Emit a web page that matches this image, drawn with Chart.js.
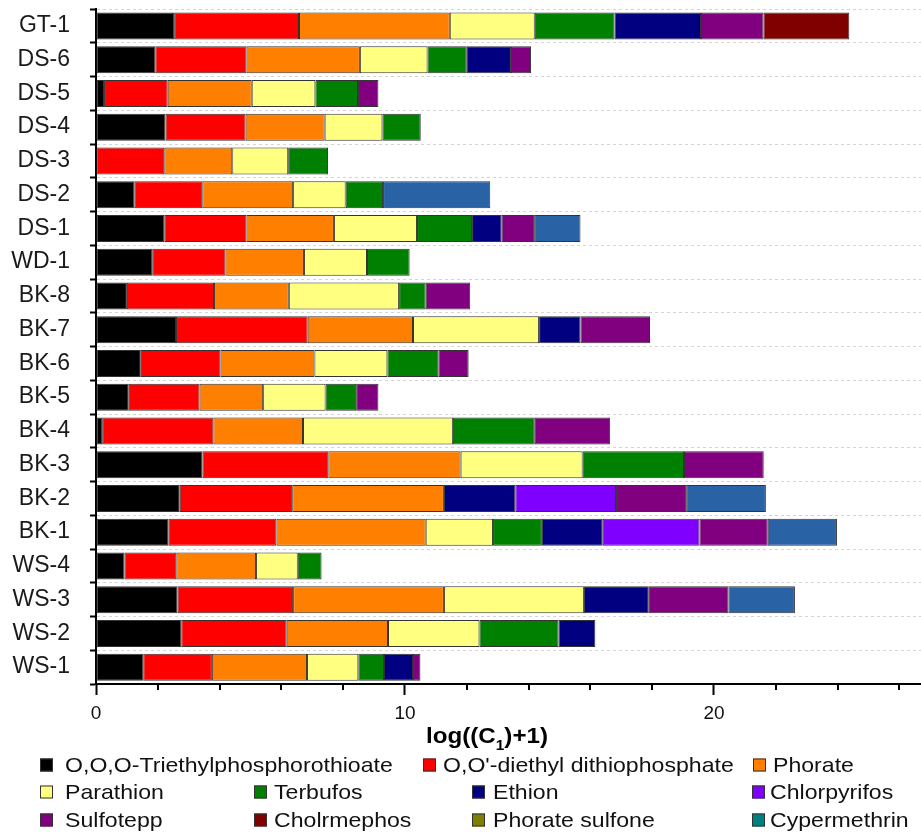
<!DOCTYPE html>
<html>
<head>
<meta charset="utf-8">
<script src="https://cdn.jsdelivr.net/npm/chart.js@4.4.0/dist/chart.umd.min.js"></script>
<style>
  html, body { margin: 0; padding: 0; background: #fff; }
  #wrap { width: 921px; height: 839px; }
</style>
</head>
<body>
<div id="wrap"><canvas id="chart" width="921" height="839"></canvas></div>
<script>
// samples, top to bottom
const samples = ['GT-1', 'DS-6', 'DS-5', 'DS-4', 'DS-3', 'DS-2', 'DS-1', 'WD-1', 'BK-8', 'BK-7',
                 'BK-6', 'BK-5', 'BK-4', 'BK-3', 'BK-2', 'BK-1', 'WS-4', 'WS-3', 'WS-2', 'WS-1'];

const compounds = ['O,O,O-Triethylphosphorothioate', "O,O'-diethyl dithiophosphate", 'Phorate',
                   'Parathion', 'Terbufos', 'Ethion', 'Chlorpyrifos', 'Sulfotepp', 'Cholrmephos',
                   'Phorate sulfone', 'Cypermethrin'];

const triethyl     = [2.53, 1.92, 0.26, 2.25, 0, 1.24, 2.21, 1.82, 1.00, 2.59, 1.45, 1.06, 0.20, 3.45, 2.71, 2.35, 0.92, 2.64, 2.76, 1.53];
const diethyl      = [4.04, 2.95, 2.06, 2.59, 2.21, 2.20, 2.66, 2.37, 2.82, 4.26, 2.58, 2.29, 3.60, 4.07, 3.64, 3.49, 1.68, 3.74, 3.41, 2.22];
const phorate      = [4.88, 3.67, 2.72, 2.56, 2.20, 2.94, 2.83, 2.54, 2.42, 3.41, 3.04, 2.06, 2.90, 4.28, 4.91, 4.83, 2.58, 4.88, 3.28, 3.08];
const parathion    = [2.75, 2.19, 2.06, 1.87, 1.81, 1.70, 2.69, 2.04, 3.57, 4.08, 2.36, 2.02, 4.85, 3.95, 0, 2.18, 1.35, 4.53, 2.96, 1.66];
const terbufos     = [2.58, 1.27, 1.38, 1.24, 1.29, 1.21, 1.78, 1.38, 0.86, 0, 1.65, 0.99, 2.65, 3.28, 0, 1.58, 0.77, 0, 2.56, 0.83];
const ethion       = [2.80, 1.43, 0, 0, 0, 0, 0.96, 0, 0, 1.34, 0, 0, 0, 0, 2.31, 1.97, 0, 2.10, 1.19, 0.94];
const chlorpyrifos = [0, 0, 0, 0, 0, 0, 0, 0, 0, 0, 0, 0, 0, 0, 3.26, 3.13, 0, 0, 0, 0];
const sulfotepp    = [2.02, 0.65, 0.66, 0, 0, 0, 1.05, 0, 1.44, 2.25, 0.98, 0.72, 2.44, 2.58, 2.27, 2.21, 0, 2.58, 0, 0.24];
const cholrmephos  = [2.78, 0, 0, 0, 0, 0, 0, 0, 0, 0, 0, 0, 0, 0, 0, 0, 0, 0, 0, 0];
const phorateSulf  = [0, 0, 0, 0, 0, 0, 0, 0, 0, 0, 0, 0, 0, 0, 0, 0, 0, 0, 0, 0];
const cypermethrin = [0, 0, 0, 0, 0, 3.47, 1.50, 0, 0, 0, 0, 0, 0, 0, 2.58, 2.24, 0, 2.15, 0, 0];

const xTicks = [0, 10, 20];

const seriesValues = [triethyl, diethyl, phorate, parathion, terbufos, ethion, chlorpyrifos,
                      sulfotepp, cholrmephos, phorateSulf, cypermethrin];
const barColors = ['#000000', '#ff0000', '#ff8000', '#ffff80', '#008000', '#000080', '#8000ff',
                   '#800080', '#800000', '#808000', '#2a62a6'];
const legendColors = ['#000000', '#ff0000', '#ff8000', '#ffff80', '#008000', '#000080', '#8000ff',
                      '#800080', '#800000', '#808000', '#008080'];

const FONT = "'Liberation Sans', Arial, sans-serif";

// legend is laid out like the original: first row has 3 wide items, the rest 4 columns
const legendLayout = [
    { sx: 40, tx: 65, y: 765 }, { sx: 423, tx: 443, y: 765 }, { sx: 753, tx: 773, y: 765 },
    { sx: 40, tx: 65, y: 792 }, { sx: 254, tx: 274, y: 792 }, { sx: 472, tx: 493, y: 792 }, { sx: 752, tx: 770, y: 792 },
    { sx: 40, tx: 65, y: 820 }, { sx: 254, tx: 274, y: 820 }, { sx: 472, tx: 493, y: 820 }, { sx: 752, tx: 770, y: 820 }
];

const extrasPlugin = {
    id: 'extras',
    afterDraw(chart) {
        const ctx = chart.ctx;
        const x = chart.scales.x;
        const bottom = chart.chartArea.bottom;

        // minor ticks every 2 units
        ctx.save();
        ctx.strokeStyle = '#000';
        ctx.lineWidth = 2;
        for (let v = 2; v <= x.max; v += 2) {
            if (v % 10 === 0) continue;
            const px = Math.round(x.getPixelForValue(v));
            ctx.beginPath();
            ctx.moveTo(px, bottom);
            ctx.lineTo(px, bottom + 6);
            ctx.stroke();
        }
        ctx.restore();

        // axis title with subscript
        ctx.save();
        ctx.fillStyle = '#000';
        ctx.textBaseline = 'alphabetic';
        const big = 'bold 22px ' + FONT;
        const small = 'bold 14px ' + FONT;
        const stretch = 1.1;
        ctx.font = big;
        const w1 = ctx.measureText('log((C').width;
        const w3 = ctx.measureText(')+1)').width;
        ctx.font = small;
        const w2 = ctx.measureText('1').width;
        const total = (w1 + w2 + w3) * stretch;
        ctx.translate(487 - total / 2, 743);
        ctx.scale(stretch, 1);
        ctx.font = big;
        ctx.fillText('log((C', 0, 0);
        ctx.font = small;
        ctx.fillText('1', w1, 7);
        ctx.font = big;
        ctx.fillText(')+1)', w1 + w2, 0);
        ctx.restore();

        // legend
        ctx.save();
        ctx.font = '21px ' + FONT;
        ctx.textBaseline = 'middle';
        compounds.forEach((name, i) => {
            const L = legendLayout[i];
            ctx.fillStyle = legendColors[i];
            ctx.fillRect(L.sx, L.y - 6.5, 13, 13);
            ctx.strokeStyle = '#333';
            ctx.lineWidth = 1;
            ctx.strokeRect(L.sx + 0.5, L.y - 6, 12, 12);
            ctx.save();
            ctx.translate(L.tx, L.y + 1);
            ctx.scale(1.1, 1);
            ctx.fillStyle = '#111';
            ctx.fillText(name, 0, 0);
            ctx.restore();
        });
        ctx.restore();
    }
};

const datasets = compounds.map((name, i) => ({
    label: name,
    data: seriesValues[i].map(v => v || null),
    backgroundColor: barColors[i],
    borderColor: '#333',
    borderWidth: 1,
    borderSkipped: false,
    barPercentage: 0.8,
    categoryPercentage: 1.0
}));

new Chart(document.getElementById('chart'), {
    type: 'bar',
    data: { labels: samples, datasets: datasets },
    options: {
        indexAxis: 'y',
        responsive: false,
        animation: false,
        devicePixelRatio: 1,
        layout: { padding: { top: 9, left: 0, right: 0, bottom: 0 } },
        plugins: {
            legend: { display: false },
            tooltip: { enabled: false }
        },
        scales: {
            x: {
                stacked: true,
                min: 0,
                max: 26.7,
                afterFit: s => { s.height = 155; },
                afterBuildTicks: s => { s.ticks = xTicks.map(v => ({ value: v })); },
                ticks: {
                    font: { family: FONT, size: 19 },
                    color: '#111',
                    padding: 7,
                    maxRotation: 0
                },
                grid: {
                    drawOnChartArea: false,
                    tickLength: 11,
                    tickWidth: 2,
                    tickColor: '#000'
                },
                border: { color: '#000', width: 2 }
            },
            y: {
                stacked: true,
                afterFit: s => {
                    s.width = 96;
                    s.paddingTop = 0;
                    s.paddingBottom = 0;
                },
                ticks: {
                    font: { family: FONT, size: 23 },
                    color: '#1a1a1a',
                    padding: 20
                },
                grid: {
                    offset: true,
                    color: '#d4d4d4',
                    lineWidth: 1,
                    tickLength: 6,
                    tickWidth: 2,
                    tickColor: '#000'
                },
                border: { color: '#000', width: 2, dash: [3, 3] }
            }
        }
    },
    plugins: [extrasPlugin]
});
</script>
</body>
</html>
